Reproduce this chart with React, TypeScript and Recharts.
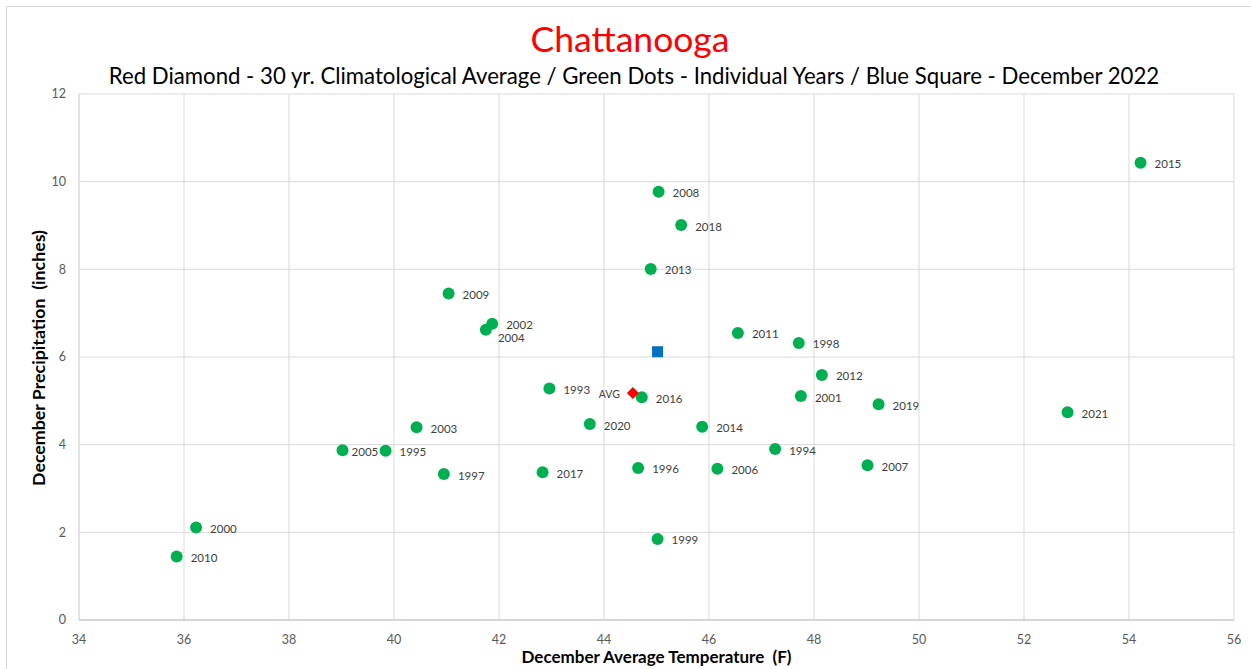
import React from "react";
import { ScatterChart, Scatter, XAxis, YAxis, CartesianGrid } from "recharts";

const years = [1993, 1994, 1995, 1996, 1997, 1998, 1999, 2000, 2001, 2002, 2003, 2004, 2005, 2006, 2007, 2008, 2009, 2010, 2011, 2012, 2013, 2014, 2015, 2016, 2017, 2018, 2019, 2020, 2021];
const temps = [42.96, 47.26, 39.84, 44.65, 40.95, 47.71, 45.02, 36.23, 47.75, 41.87, 40.43, 41.75, 39.02, 46.16, 49.02, 45.04, 41.04, 35.86, 46.55, 48.15, 44.89, 45.87, 54.22, 44.72, 42.83, 45.47, 49.23, 43.73, 52.83];
const precips = [5.28, 3.9, 3.86, 3.47, 3.33, 6.32, 1.85, 2.11, 5.11, 6.76, 4.4, 6.62, 3.87, 3.45, 3.53, 9.77, 7.45, 1.45, 6.55, 5.59, 8.01, 4.41, 10.43, 5.08, 3.37, 9.01, 4.92, 4.47, 4.74];

const avgTemp = 44.55;
const avgPrecip = 5.18;
const dec2022Temp = 45.02;
const dec2022Precip = 6.12;

const xTicks = [34, 36, 38, 40, 42, 44, 46, 48, 50, 52, 54, 56];
const yTicks = [0, 2, 4, 6, 8, 10, 12];

const titleText = "Chattanooga";
const subtitleText = "Red Diamond - 30 yr. Climatological Average / Green Dots - Individual Years / Blue Square - December 2022";
const xTitle = "December Average Temperature  (F)";
const yTitle = "December Precipitation  (inches)";

const yearData = years.map((y, i) => ({ year: y, t: temps[i], p: precips[i] }));
const avgData = [{ t: avgTemp, p: avgPrecip, label: "AVG" }];
const curData = [{ t: dec2022Temp, p: dec2022Precip }];

// label nudges (dx, dy) for a few crowded labels
const labelNudge: Record<number, [number, number]> = {
  2004: [12, 8],
  2005: [9, 1],
};

const FONT = "Lato, 'Open Sans', sans-serif";

const GreenDot = (props: any) => {
  const { cx, cy, payload } = props;
  if (cx == null || cy == null) return null;
  const n = labelNudge[payload.year] || [14, 1];
  return (
    <g>
      <circle cx={cx} cy={cy} r={6} fill="#00b050" />
      <text x={cx + n[0]} y={cy + n[1]} dominantBaseline="central" fontSize={11.5} fill="#404040" fontFamily={FONT}>
        {payload.year}
      </text>
    </g>
  );
};

const RedDiamond = (props: any) => {
  const { cx, cy, payload } = props;
  if (cx == null || cy == null) return null;
  const s = 6;
  return (
    <g>
      <polygon points={`${cx},${cy - s} ${cx + s},${cy} ${cx},${cy + s} ${cx - s},${cy}`} fill="#ff0000" />
      <text x={cx - 13} y={cy + 1} textAnchor="end" dominantBaseline="central" fontSize={10.5} fill="#404040" fontFamily={FONT}>
        {payload.label}
      </text>
    </g>
  );
};

const BlueSquare = (props: any) => {
  const { cx, cy } = props;
  if (cx == null || cy == null) return null;
  return <rect x={cx - 5.5} y={cy - 5.5} width={11} height={11} fill="#0070c0" />;
};

export default function App() {
  return (
    <div style={{ position: "absolute", left: 0, top: 0, width: 1251, height: 669, background: "#fff", overflow: "hidden", fontFamily: FONT }}>
      <div style={{ position: "absolute", left: 6, top: 6, width: 1300, height: 700, border: "1px solid #d9d9d9" }} />
      <ScatterChart width={1251} height={669} margin={{ top: 94, right: 17, bottom: 0, left: 0 }}>
        <CartesianGrid stroke="#d9d9d9" strokeWidth={1} />
        <XAxis
          type="number"
          dataKey="t"
          domain={[34, 56]}
          ticks={xTicks}
          interval={0}
          height={49}
          tickLine={false}
          tickSize={0}
          tickMargin={15}
          axisLine={{ stroke: "#bfbfbf" }}
          tick={{ fontSize: 12.5, fill: "#595959", fontFamily: FONT }}
          allowDataOverflow
        />
        <YAxis
          type="number"
          dataKey="p"
          domain={[0, 12]}
          ticks={yTicks}
          interval={0}
          width={79}
          tickLine={false}
          tickSize={0}
          tickMargin={13}
          axisLine={{ stroke: "#d9d9d9" }}
          tick={{ fontSize: 12.5, fill: "#595959", fontFamily: FONT }}
          allowDataOverflow
        />
        <Scatter data={yearData} shape={GreenDot} isAnimationActive={false} />
        <Scatter data={avgData} shape={RedDiamond} isAnimationActive={false} />
        <Scatter data={curData} shape={BlueSquare} isAnimationActive={false} />
      </ScatterChart>
      <div style={{ position: "absolute", left: 0, width: 1260, top: 18, textAlign: "center", fontSize: 35.5, color: "#ff0000", lineHeight: "42px" }}>
        {titleText}
      </div>
      <div style={{ position: "absolute", left: 0, width: 1268, top: 61, textAlign: "center", fontSize: 22.2, color: "#000", lineHeight: "30px", whiteSpace: "nowrap" }}>
        {subtitleText}
      </div>
      <div style={{ position: "absolute", left: 79, width: 1155, top: 647, textAlign: "center", fontSize: 17, fontWeight: 700, color: "#000", lineHeight: "20px", whiteSpace: "pre" }}>
        {xTitle}
      </div>
      <div
        style={{
          position: "absolute",
          left: 38 - 150,
          top: 358 - 11,
          width: 300,
          textAlign: "center",
          fontSize: 17.8,
          fontWeight: 700,
          color: "#000",
          lineHeight: "22px",
          whiteSpace: "pre",
          transform: "rotate(-90deg)",
          transformOrigin: "50% 50%",
        }}
      >
        {yTitle}
      </div>
    </div>
  );
}
